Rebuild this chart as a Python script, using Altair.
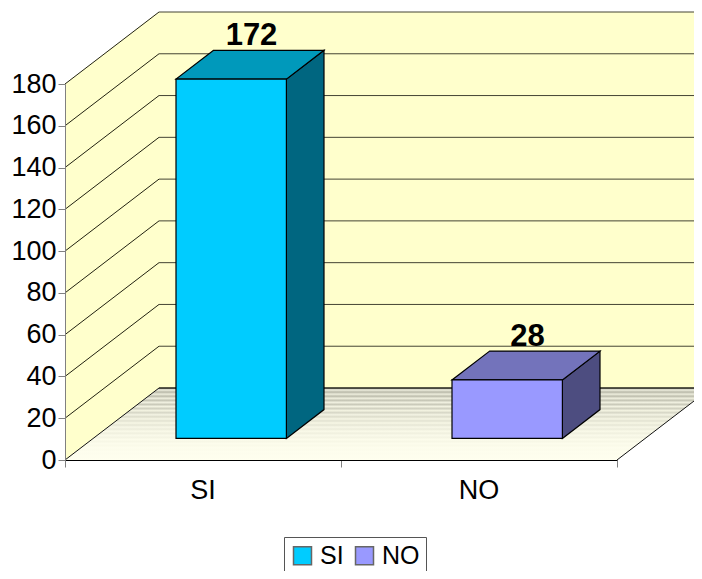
import altair as alt
import pandas as pd

categories = ["SI", "NO"]
values = [172, 28]
front_colors = ["#00ccff", "#9999ff"]
top_colors = ["#0099bb", "#7373bb"]
side_colors = ["#006680", "#4d4d80"]
y_ticks = [0, 20, 40, 60, 80, 100, 120, 140, 160, 180]
floor_shades = ["#a8a89a", "#ececdc", "#b8b8a8", "#eeeedd", "#bcbcac", "#f0f0df",
                "#c4c4b4", "#f0f0e0", "#cacaba", "#f2f2e1", "#d0d0c0", "#f4f4e2",
                "#d6d6c6", "#f4f4e4", "#dcdccb", "#f6f6e5", "#e2e2d1", "#f8f8e6",
                "#e6e6d5", "#f8f8e8", "#ececdb", "#fafae9", "#f0f0df", "#fafaea",
                "#f4f4e3", "#fcfceb", "#f7f7e6", "#fcfcec", "#fafae9", "#fdfded",
                "#fcfceb", "#fefeee", "#fdfded", "#fefeee", "#fefeee", "#ffffef"]

W, H = 552, 376
Y_MAX, X_MAX = 180, 2
DX = 94 / (W / X_MAX)      # depth shift of the box in x units
DY = 72 / (H / Y_MAX)      # depth shift of the box in y units
BAR = (0.3, 0.7)           # share of a category's width and of the depth


def px(x, d):
    return x + d * DX


def py(v, d):
    return v + d * DY


x_scale = alt.Scale(domain=[0, X_MAX], nice=False)
y_scale = alt.Scale(domain=[0, Y_MAX], nice=False)
X = alt.X("x:Q", scale=x_scale, title=None,
          axis=alt.Axis(values=[0, 1, 2], labels=False, grid=False, tickSize=7,
                        tickColor="#808080", domainColor="#000000", zindex=1))
Y = alt.Y("y:Q", scale=y_scale, title=None,
          axis=alt.Axis(values=y_ticks, grid=False, tickSize=7, tickColor="#808080",
                        domainColor="#808080", labelFontSize=27, labelColor="#000000",
                        labelFont="Liberation Sans", labelPadding=2, zindex=1))
X2 = alt.X2("x2:Q")
Y2 = alt.Y2("y2:Q")

# walls
back = alt.Chart(pd.DataFrame([{"x": px(0, 1), "x2": px(X_MAX, 1), "y": py(0, 1), "y2": py(Y_MAX, 1)}])
                 ).mark_rect(fill="#ffffcc").encode(x=X, x2=X2, y=Y, y2=Y2)
left = alt.Chart(pd.DataFrame([{"x": px(0, d), "y": py(0, d), "y2": py(Y_MAX, d)} for d in (0, 1)])
                 ).mark_area(fill="#ffffcc").encode(x=X, y=Y, y2=Y2)
floor = alt.Chart(pd.DataFrame([{"x": px(0, d), "x2": px(X_MAX, d), "y": py(0, d)} for d in (0, 1)])
                  ).mark_area(
    orient="horizontal",
    fill=alt.Gradient(gradient="linear", x1=0, x2=0, y1=0, y2=1,
                      stops=[alt.GradientStop(offset=i / (len(floor_shades) - 1), color=c)
                             for i, c in enumerate(floor_shades)])
).encode(x=X, x2=X2, y=Y)

# grid lines
grid_rows = []
for t in y_ticks[1:]:
    grid_rows.append({"g": f"side{t}", "o": 0, "x": px(0, 0), "y": py(t, 0)})
    grid_rows.append({"g": f"side{t}", "o": 1, "x": px(0, 1), "y": py(t, 1)})
side_grid = alt.Chart(pd.DataFrame(grid_rows)).mark_line(color="#222211", strokeWidth=1).encode(
    x=X, y=Y, detail="g:N", order="o:Q")
back_grid = alt.Chart(pd.DataFrame([{"x": px(0, 1), "x2": px(X_MAX, 1), "y": py(t, 1)} for t in y_ticks])
                      ).mark_rule(color="#444433", strokeWidth=1).encode(x=X, x2=X2, y=Y)

# floor edges
edge_rows = [
    {"g": "l", "o": 0, "x": px(0, 0), "y": py(0, 0)},
    {"g": "l", "o": 1, "x": px(0, 1), "y": py(0, 1)},
    {"g": "r", "o": 0, "x": px(X_MAX, 0), "y": py(0, 0)},
    {"g": "r", "o": 1, "x": px(X_MAX, 1), "y": py(0, 1)},
    {"g": "b", "o": 0, "x": px(0, 1), "y": py(0, 1)},
    {"g": "b", "o": 1, "x": px(X_MAX, 1), "y": py(0, 1)},
]
edges = alt.Chart(pd.DataFrame(edge_rows)).mark_line(color="#111111", strokeWidth=1).encode(
    x=X, y=Y, detail="g:N", order="o:Q")

# bars
front_rows, side_rows, top_rows, label_rows, cat_rows = [], [], [], [], []
for i, (c, v, tc, sc) in enumerate(zip(categories, values, top_colors, side_colors)):
    x0, x1 = i + BAR[0], i + BAR[1]
    d0, d1 = BAR
    front_rows.append({"cat": c, "x": px(x0, d0), "x2": px(x1, d0), "y": py(0, d0), "y2": py(v, d0)})
    side_rows += [{"cat": c, "x": px(x1, d), "y": py(0, d), "y2": py(v, d), "col": sc} for d in (d0, d1)]
    top_rows += [{"cat": c, "x": px(x0, d), "x2": px(x1, d), "y": py(v, d), "col": tc} for d in (d0, d1)]
    label_rows.append({"x": (px(x0, d0) + px(x1, d1)) / 2, "y": py(v, d1), "t": str(v)})
    cat_rows.append({"x": i + 0.5, "y": 0, "t": c})

fronts = alt.Chart(pd.DataFrame(front_rows)).mark_rect(stroke="#000000", strokeWidth=1.2).encode(
    x=X, x2=X2, y=Y, y2=Y2,
    fill=alt.Fill("cat:N", scale=alt.Scale(domain=categories, range=front_colors),
                  legend=alt.Legend(title=None, orient="none", legendX=219, legendY=453,
                                    direction="horizontal", strokeColor="#555555",
                                    symbolType="square", symbolSize=324,
                                    symbolStrokeColor="#666666", symbolStrokeWidth=1.5,
                                    labelFontSize=25, labelFont="Liberation Sans",
                                    labelColor="#000000", padding=6, columnPadding=8,
                                    labelOffset=5)))
sides = alt.Chart(pd.DataFrame(side_rows)).mark_area(stroke="#000000", strokeWidth=1.2).encode(
    x=X, y=Y, y2=Y2, detail="cat:N", fill=alt.Fill("col:N", scale=None))
tops = alt.Chart(pd.DataFrame(top_rows)).mark_area(orient="horizontal", stroke="#000000", strokeWidth=1.2).encode(
    x=X, x2=X2, y=Y, detail="cat:N", fill=alt.Fill("col:N", scale=None))

labels = alt.Chart(pd.DataFrame(label_rows)).mark_text(
    font="Liberation Sans", fontSize=31, fontWeight="bold", color="#000000",
    baseline="alphabetic", dy=-5, dx=1.5).encode(x=X, y=Y, text="t:N")
cat_labels = alt.Chart(pd.DataFrame(cat_rows)).mark_text(
    font="Liberation Sans", fontSize=27, color="#000000",
    baseline="middle", dy=31).encode(x=X, y=Y, text="t:N")

chart = alt.layer(back, left, floor, back_grid, side_grid, edges, sides, tops, fronts, labels, cat_labels
                  ).resolve_scale(fill="independent").properties(
    width=W, height=H,
    padding={"left": 57, "top": 76, "right": 77, "bottom": 111},
    autosize="none",
    background="#ffffff",
).configure_view(stroke=None)

chart.save("out.html", embed_options={"renderer": "svg", "actions": False})
